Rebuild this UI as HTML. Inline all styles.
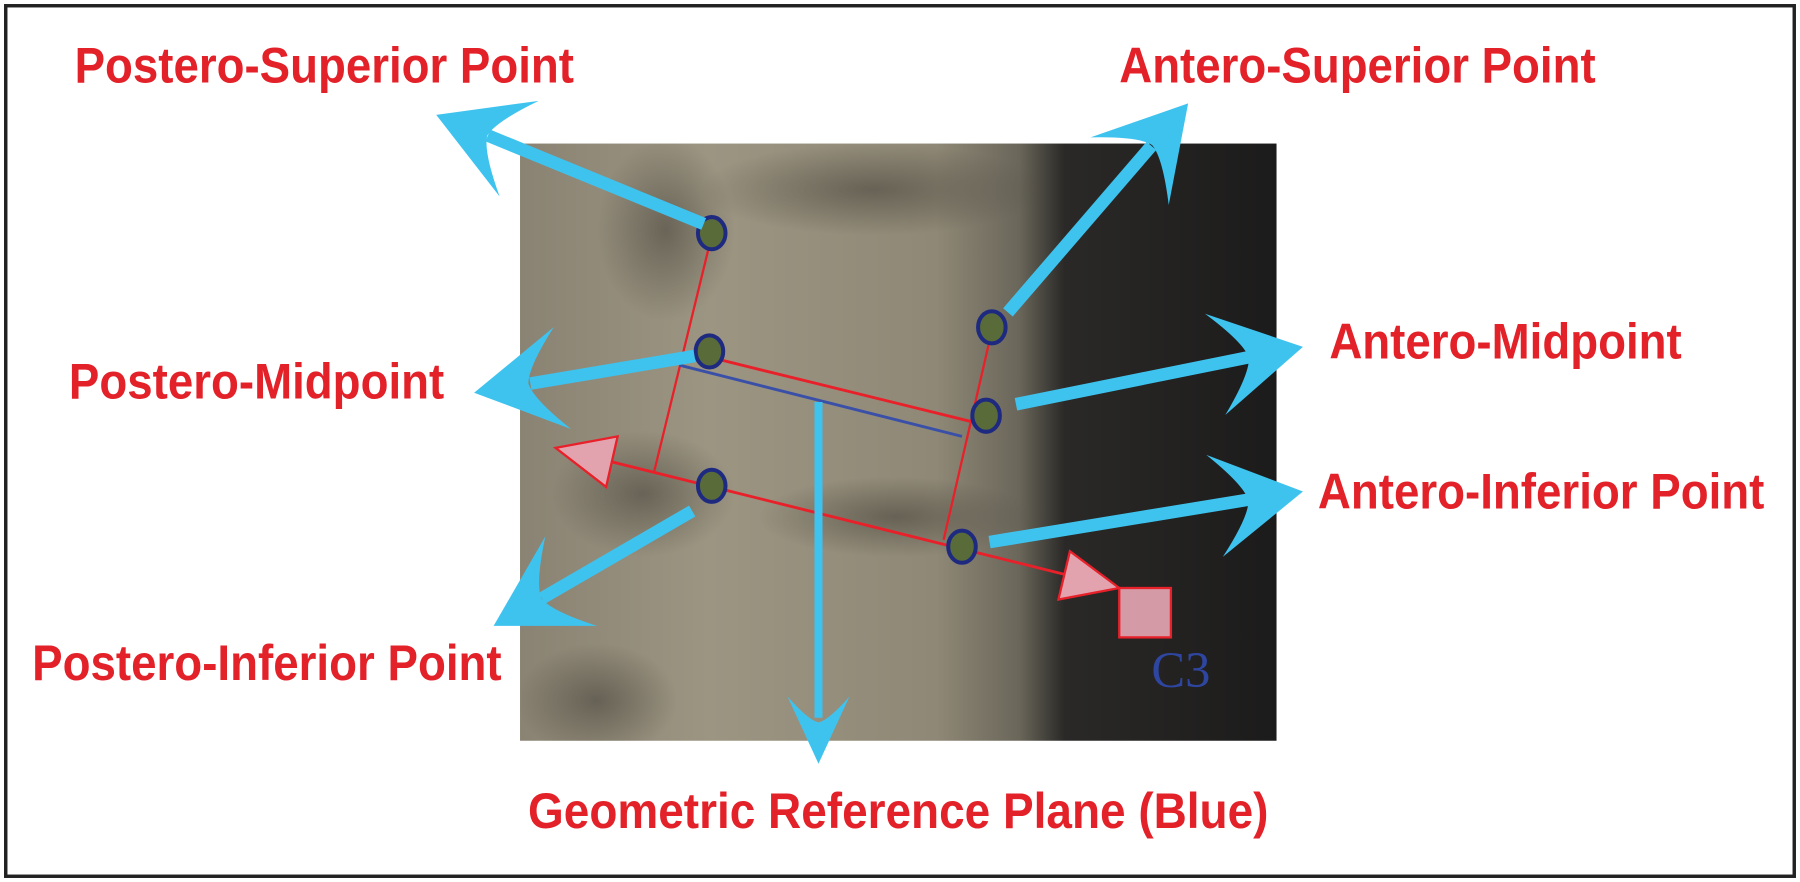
<!DOCTYPE html>
<html><head><meta charset="utf-8"><style>
html,body{margin:0;padding:0;background:#fff;}
svg{display:block;}
text{font-family:"Liberation Sans",Arial,sans-serif;font-weight:bold;fill:#e32129;}
</style></head><body>
<svg width="1800" height="882" viewBox="0 0 1568 768" preserveAspectRatio="none" xmlns="http://www.w3.org/2000/svg">
<defs>
<linearGradient id="ph" x1="0" y1="0" x2="1" y2="0">
<stop offset="0" stop-color="#8a8373"/>
<stop offset="0.25" stop-color="#9c9582"/>
<stop offset="0.55" stop-color="#8f8876"/>
<stop offset="0.66" stop-color="#6a665a"/>
<stop offset="0.72" stop-color="#2a2927"/>
<stop offset="1" stop-color="#1c1b1b"/>
</linearGradient>
<radialGradient id="dk" cx="0.5" cy="0.5" r="0.5"><stop offset="0" stop-color="#4a463d" stop-opacity="0.6"/><stop offset="1" stop-color="#4a463d" stop-opacity="0"/></radialGradient>
<clipPath id="pc"><rect x="453" y="125" width="659" height="520"/></clipPath>
<path id="ah" d="M0,0 L-78,-45 Q-50,-14 -48,0 Q-50,14 -78,45 Z" fill="#3ec3ef"/>
</defs>
<rect x="5" y="5" width="1558" height="758" fill="#fff" stroke="#222" stroke-width="3"/>
<rect x="453" y="125" width="659" height="520" fill="url(#ph)"/>
<g clip-path="url(#pc)">
<ellipse cx="580" cy="200" rx="60" ry="80" fill="url(#dk)"/>
<ellipse cx="760" cy="165" rx="150" ry="40" fill="url(#dk)"/>
<ellipse cx="560" cy="430" rx="80" ry="55" fill="url(#dk)"/>
<ellipse cx="780" cy="450" rx="120" ry="35" fill="url(#dk)"/>
<ellipse cx="520" cy="610" rx="70" ry="50" fill="url(#dk)"/>
</g>
<g stroke="#e8202a" fill="none">
<line x1="620" y1="205" x2="570" y2="410" stroke-width="2"/>
<line x1="864" y1="288" x2="822" y2="470" stroke-width="2"/>
<line x1="618" y1="311" x2="858" y2="370" stroke-width="2.5"/>
<line x1="484" y1="390" x2="975" y2="512" stroke-width="2.5"/>
</g>
<line x1="592" y1="318" x2="838" y2="380" stroke="#3a50a8" stroke-width="2.5"/>
<polygon points="484,390 538,380 528,424" fill="#e2a3ae" stroke="#e8202a" stroke-width="2"/>
<polygon points="975,512 932,480 922,522" fill="#e2a3ae" stroke="#e8202a" stroke-width="2"/>
<rect x="975" y="512" width="45" height="43" fill="#d49ba6" stroke="#e8202a" stroke-width="2"/>
<text x="1003" y="598" style="font-family:'Liberation Serif',serif;font-weight:normal;fill:#2f46a0;font-size:44px">C3</text>
<g fill="#5a6b3a" stroke="#1e2a80" stroke-width="3.5">
<ellipse cx="620" cy="203" rx="12" ry="14"/>
<ellipse cx="864" cy="285" rx="12" ry="14"/>
<ellipse cx="618" cy="306" rx="12" ry="14"/>
<ellipse cx="859" cy="362" rx="12" ry="14"/>
<ellipse cx="620" cy="423" rx="12" ry="14"/>
<ellipse cx="838" cy="476" rx="12" ry="14"/>
</g>
<g stroke="#3ec3ef" stroke-width="11">
<line x1="613" y1="195" x2="425" y2="118"/>
<line x1="878" y1="272" x2="1003" y2="127"/>
<line x1="605" y1="310" x2="462" y2="334"/>
<line x1="885" y1="352" x2="1088" y2="311"/>
<line x1="862" y1="472" x2="1088" y2="435"/>
<line x1="603" y1="445" x2="472" y2="521"/>
<line x1="713" y1="350" x2="713" y2="625" stroke-width="7"/>
</g>
<use href="#ah" transform="translate(380,100) rotate(202.2)"/>
<use href="#ah" transform="translate(1035,90) rotate(-49.2)"/>
<use href="#ah" transform="translate(413,342) rotate(170.5)"/>
<use href="#ah" transform="translate(1135,302) rotate(-11.3)"/>
<use href="#ah" transform="translate(1135,428) rotate(-9.2)"/>
<use href="#ah" transform="translate(430,545) rotate(150)"/>
<use href="#ah" transform="translate(713,665) rotate(90) scale(0.75,0.6)"/>
<text x="65" y="72" font-size="44" textLength="435" lengthAdjust="spacingAndGlyphs">Postero-Superior Point</text>
<text x="975" y="72" font-size="44" textLength="415" lengthAdjust="spacingAndGlyphs">Antero-Superior Point</text>
<text x="1158" y="312" font-size="44" textLength="307" lengthAdjust="spacingAndGlyphs">Antero-Midpoint</text>
<text x="60" y="347" font-size="44" textLength="327" lengthAdjust="spacingAndGlyphs">Postero-Midpoint</text>
<text x="1148" y="443" font-size="44" textLength="389" lengthAdjust="spacingAndGlyphs">Antero-Inferior Point</text>
<text x="28" y="592" font-size="44" textLength="409" lengthAdjust="spacingAndGlyphs">Postero-Inferior Point</text>
<text x="460" y="721" font-size="44" textLength="645" lengthAdjust="spacingAndGlyphs">Geometric Reference Plane (Blue)</text>
</svg>
</body></html>
